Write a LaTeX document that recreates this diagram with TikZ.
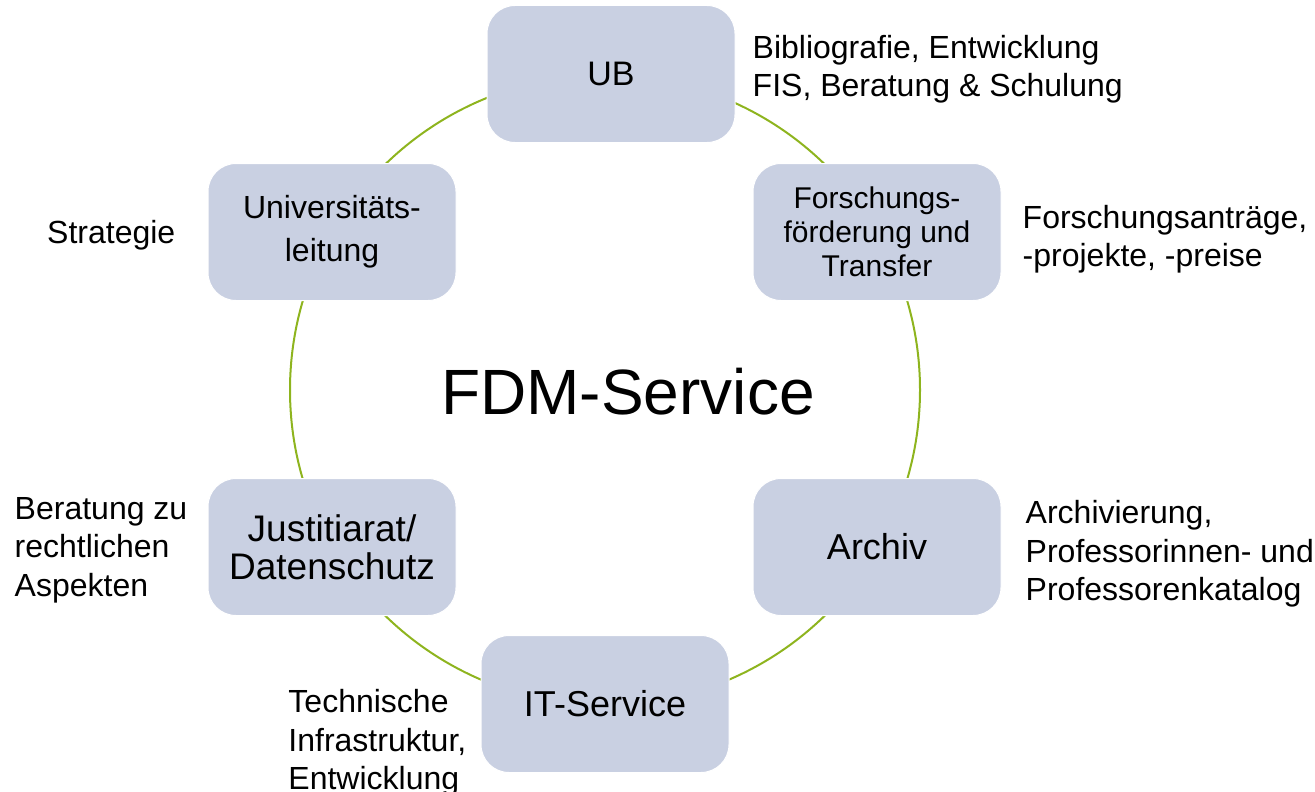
\documentclass[tikz,border=0pt]{standalone}
\usepackage{fontspec}
\setmainfont{Liberation Sans}
\usetikzlibrary{positioning}
\definecolor{boxfill}{RGB}{201,208,226}
\definecolor{ringgreen}{RGB}{142,180,30}

\begin{document}
\begin{tikzpicture}[x=1pt,y=-1pt,node distance=20pt,
    unit/.style={rectangle,rounded corners=28pt,fill=boxfill,draw=white,line width=1pt,
      minimum width=248pt,minimum height=137pt,align=center,inner sep=2pt,
      font=\fontsize{36}{38}\selectfont},
    note/.style={align=left,inner sep=0pt,font=\fontsize{32}{38.4}\selectfont},
    ring/.style={draw=ringgreen,line width=2pt}]
    \useasboundingbox (0,0) rectangle (1315,792);
    \coordinate (hub) at (605,390);
    \draw[ring] (hub) circle[radius=315pt];
    \node (fdm) at (628,392) {\fontsize{64}{70}\selectfont FDM-Service};
    \node[unit,font=\fontsize{34}{38}\selectfont] (ub) at (611,74)  {UB};
    \node[unit,font=\fontsize{32}{43}\selectfont] (ul) at (332,232) {Universitäts-\\leitung};
    \node[unit,font=\fontsize{30}{34}\selectfont] (ff) at (877,232) {Forschungs-\\förderung und\\Transfer};
    \node[unit,font=\fontsize{37}{38}\selectfont] (jd) at (332,547) {Justitiarat/\\Datenschutz};
    \node[unit]          (ar) at (877,547) {Archiv};
    \node[unit]          (it) at (605,704) {IT-Service};
    \node[note] (n_ub) [right=17pt of ub,yshift=5pt]  {Bibliografie, Entwicklung\\FIS, Beratung \& Schulung};
    \node[note] (n_ul) [left=32pt of ul,yshift=-3pt]  {Strategie};
    \node[note] (n_ff) [right=21pt of ff,yshift=-7pt] {Forschungsanträge,\\-projekte, -preise};
    \node[note] (n_jd) [left=20pt of jd,yshift=-3pt]  {Beratung zu\\rechtlichen\\Aspekten};
    \node[note] (n_ar) [right=24pt of ar,yshift=-7pt] {Archivierung,\\Professorinnen- und\\Professorenkatalog};
    \node[note] (n_it) [left=14pt of it,yshift=-39pt] {Technische\\Infrastruktur,\\Entwicklung};
\end{tikzpicture}
\end{document}
